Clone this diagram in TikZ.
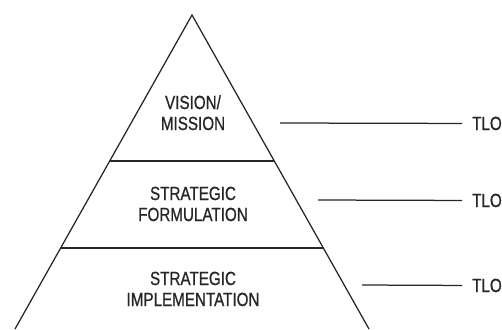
\documentclass[tikz,border=0pt]{standalone}
\usepackage{fontspec}
\setmainfont{Liberation Sans}[FakeStretch=0.8,FakeBold=0.8]
\begin{document}
\begin{tikzpicture}[x=1pt,y=-1pt,
  edge/.style={line width=1.25pt,black!85},
  tier/.style={inner sep=0pt,anchor=base,font=\fontsize{19}{21}\selectfont,text=black!85},
  tlolabel/.style={inner sep=0pt,anchor=base west,font=\fontsize{19}{21}\selectfont,text=black!85}]
  \useasboundingbox (0,0) rectangle (502,329);
  % pyramid outline
  \coordinate (apex) at (192,15);
  \coordinate (bl) at (15,329);
  \coordinate (br) at (369,329);
  \draw[edge] (bl) -- (apex) -- (br);
  % tier dividers
  \coordinate (d1l) at (109.8,161);
  \coordinate (d1r) at (274.2,161);
  \coordinate (d2l) at (60.8,248);
  \coordinate (d2r) at (323.2,248);
  \draw[edge] (d1l) -- (d1r);
  \draw[edge] (d2l) -- (d2r);
  % tier labels
  \node[tier] (t1a) at (193,109) {VISION/};
  \node[tier] (t1b) at (193,130) {MISSION};
  \node[tier] (t2a) at (193,200) {STRATEGIC};
  \node[tier] (t2b) at (193,221) {FORMULATION};
  \node[tier] (t3a) at (193,285) {STRATEGIC};
  \node[tier] (t3b) at (193,306) {IMPLEMENTATION};
  % TLO leaders
  \node[tlolabel] (o1) at (472,130) {TLO};
  \node[tlolabel] (o2) at (472,207) {TLO};
  \node[tlolabel] (o3) at (472,292) {TLO};
  \coordinate (s1) at (280,123);
  \coordinate (s2) at (318,200);
  \coordinate (s3) at (362,285);
  \draw[edge] (s1) -- ([xshift=-10pt]o1.west);
  \draw[edge] (s2) -- ([xshift=-10pt]o2.west);
  \draw[edge] (s3) -- ([xshift=-10pt]o3.west);
\end{tikzpicture}
\end{document}
